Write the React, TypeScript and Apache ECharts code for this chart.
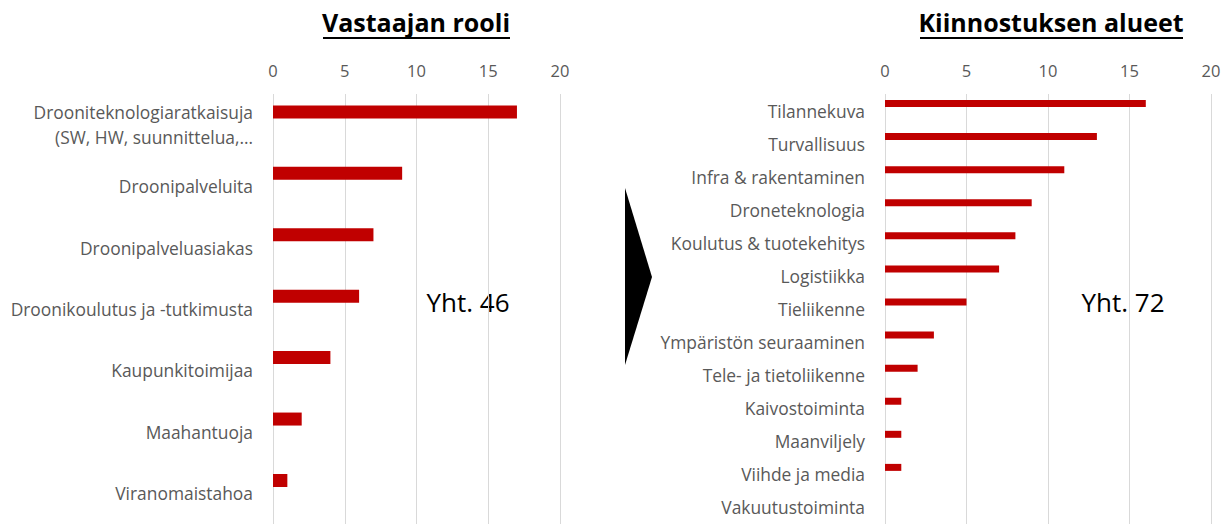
import React, { useEffect, useRef } from "react";
import * as echarts from "echarts";

const roleCategories = [
  "Drooniteknologiaratkaisuja\n(SW, HW, suunnittelua,…",
  "Droonipalveluita",
  "Droonipalveluasiakas",
  "Droonikoulutus ja -tutkimusta",
  "Kaupunkitoimijaa",
  "Maahantuoja",
  "Viranomaistahoa",
];
const roleValues = [17, 9, 7, 6, 4, 2, 1];

const interestCategories = [
  "Tilannekuva",
  "Turvallisuus",
  "Infra & rakentaminen",
  "Droneteknologia",
  "Koulutus & tuotekehitys",
  "Logistiikka",
  "Tieliikenne",
  "Ympäristön seuraaminen",
  "Tele- ja tietoliikenne",
  "Kaivostoiminta",
  "Maanviljely",
  "Viihde ja media",
  "Vakuutustoiminta",
];
const interestValues = [16, 13, 11, 9, 8, 7, 5, 3, 2, 1, 1, 1, 0];

const xTicks = [0, 5, 10, 15, 20];
const titleLeft = "Vastaajan rooli";
const titleRight = "Kiinnostuksen alueet";
const totalLeft = "Yht. 46";
const totalRight = "Yht. 72";

const FONT = "'Open Sans', sans-serif";
const GRAY = "#595959";
const RED = "#C00000";

export default function App() {
  const ref = useRef<HTMLDivElement>(null);
  useEffect(() => {
    if (!ref.current) return;
    const chart = echarts.init(ref.current, null, { renderer: "svg" });
    const xAxisBase = (gridIndex: number) => ({
      type: "value" as const,
      gridIndex,
      position: "top" as const,
      min: xTicks[0],
      max: xTicks[xTicks.length - 1],
      interval: 5,
      axisLine: { show: false },
      axisTick: { show: false },
      axisLabel: { color: GRAY, fontSize: 16.5, fontFamily: FONT, margin: 15 },
      splitLine: { show: true, lineStyle: { color: "#d9d9d9", width: 1 } },
    });
    const yAxisBase = (gridIndex: number, data: string[]) => ({
      type: "category" as const,
      gridIndex,
      data,
      inverse: true,
      axisLine: { show: false },
      axisTick: { show: false },
      axisLabel: {
        color: GRAY,
        fontSize: 17.4,
        fontFamily: FONT,
        margin: 20,
        lineHeight: 25,
        interval: 0,
      },
    });
    chart.setOption({
      animation: false,
      backgroundColor: "#ffffff",
      grid: [
        { left: 273, width: 287, top: 94, height: 435 },
        { left: 885, width: 326, top: 94, height: 434 },
      ],
      xAxis: [xAxisBase(0), xAxisBase(1)],
      yAxis: [yAxisBase(0, roleCategories), yAxisBase(1, interestCategories)],
      series: [
        {
          type: "bar",
          xAxisIndex: 0,
          yAxisIndex: 0,
          data: roleValues,
          barWidth: 13,
          barGap: "97%",
          itemStyle: { color: RED },
        },
        {
          type: "bar",
          xAxisIndex: 0,
          yAxisIndex: 0,
          data: roleValues.map(() => "-"),
          barWidth: 13,
          itemStyle: { color: "transparent" },
        },
        {
          type: "bar",
          xAxisIndex: 1,
          yAxisIndex: 1,
          data: interestValues,
          barWidth: 7,
          barGap: "100%",
          itemStyle: { color: RED },
        },
        {
          type: "bar",
          xAxisIndex: 1,
          yAxisIndex: 1,
          data: interestValues.map(() => "-"),
          barWidth: 7,
          itemStyle: { color: "transparent" },
        },
      ],
      graphic: [
        {
          type: "text",
          x: 416,
          y: 22,
          style: {
            text: titleLeft,
            fill: "#000",
            font: `bold 25px ${FONT}`,
            textAlign: "center",
            textVerticalAlign: "middle",
          },
        },
        { type: "rect", shape: { x: 323, y: 37, width: 187, height: 2 }, style: { fill: "#000" } },
        {
          type: "text",
          x: 1051,
          y: 22,
          style: {
            text: titleRight,
            fill: "#000",
            font: `bold 25px ${FONT}`,
            textAlign: "center",
            textVerticalAlign: "middle",
          },
        },
        { type: "rect", shape: { x: 920, y: 37, width: 263, height: 2 }, style: { fill: "#000" } },
        { type: "rect", shape: { x: 412, y: 275, width: 138, height: 51 }, style: { fill: "#fff" } },
        {
          type: "text",
          x: 468,
          y: 302,
          style: {
            text: totalLeft,
            fill: "#000",
            font: `26px ${FONT}`,
            textAlign: "center",
            textVerticalAlign: "middle",
          },
        },
        { type: "rect", shape: { x: 1058, y: 275, width: 140, height: 51 }, style: { fill: "#fff" } },
        {
          type: "text",
          x: 1123,
          y: 302,
          style: {
            text: totalRight,
            fill: "#000",
            font: `26px ${FONT}`,
            textAlign: "center",
            textVerticalAlign: "middle",
          },
        },
        {
          type: "polygon",
          shape: { points: [[625, 188], [652, 277], [625, 365]] },
          style: { fill: "#000" },
        },
      ],
    });
    return () => chart.dispose();
  }, []);
  return (
    <div
      ref={ref}
      style={{ position: "fixed", left: 0, top: 0, width: 1232, height: 524 }}
    />
  );
}
